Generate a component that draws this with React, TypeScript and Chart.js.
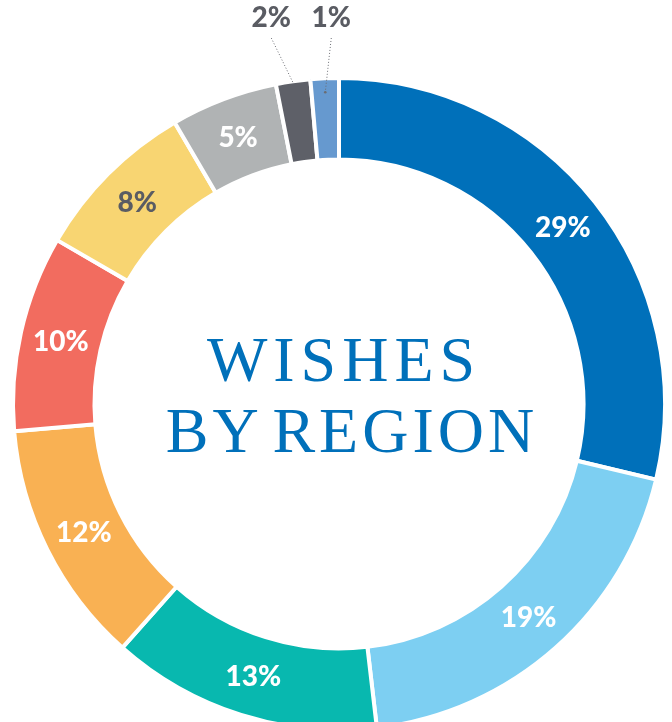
import React, { useEffect, useRef } from "react";
import { Chart, registerables } from "chart.js";

Chart.register(...registerables);

const regions = ["Region A", "Region B", "Region C", "Region D", "Region E", "Region F", "Region G", "Region H", "Region I"];
const shares = [28.7, 19.4, 13.4, 12.1, 9.7, 8.2, 5.3, 1.7, 1.4];
const percentLabels = ["29%", "19%", "13%", "12%", "10%", "8%", "5%", "2%", "1%"];
const sliceColors = ["#0070BA", "#7DCFF2", "#08B8AF", "#F9B153", "#F26C5F", "#F8D572", "#B0B3B4", "#5E6068", "#6699CF"];
const labelColors = ["#FFFFFF", "#FFFFFF", "#FFFFFF", "#FFFFFF", "#FFFFFF", "#5A5C63", "#FFFFFF", "#5A5C63", "#5A5C63"];
const calloutIndexes = [7, 8];

const labelPlugin = {
  id: "sliceLabels",
  afterDatasetsDraw(chart: any) {
    const ctx = chart.ctx;
    const meta = chart.getDatasetMeta(0);
    ctx.save();
    ctx.font = "900 28px Lato";
    ctx.textAlign = "center";
    ctx.textBaseline = "middle";
    meta.data.forEach((arc: any, i: number) => {
      const { x, y, startAngle, endAngle, outerRadius } = arc.getProps(["x", "y", "startAngle", "endAngle", "outerRadius"], true);
      if (calloutIndexes.includes(i)) {
        const mid = (startAngle + endAngle) / 2;
        const k = calloutIndexes.indexOf(i);
        const endR = k === 0 ? outerRadius - 2 : outerRadius - 14;
        const ex = x + Math.cos(mid) * endR;
        const ey = y + Math.sin(mid) * endR;
        const lx = k === 0 ? ex - 22 : ex + 6;
        const ly = y - outerRadius - 60;
        ctx.fillStyle = labelColors[i];
        ctx.fillText(percentLabels[i], lx, ly);
        ctx.strokeStyle = "#6B6D73";
        ctx.lineWidth = 1;
        ctx.setLineDash([1, 2]);
        ctx.beginPath();
        ctx.moveTo(lx, ly + 20);
        ctx.lineTo(ex, ey);
        ctx.stroke();
        ctx.setLineDash([]);
        if (k === 1) {
          ctx.fillStyle = "#6B6D73";
          ctx.beginPath();
          ctx.arc(ex, ey, 1.3, 0, Math.PI * 2);
          ctx.fill();
        }
      } else {
        const p = arc.tooltipPosition(true);
        ctx.fillStyle = labelColors[i];
        ctx.fillText(percentLabels[i], p.x, p.y + 1);
      }
    });
    ctx.restore();
  },
};

export default function App() {
  const canvasRef = useRef<HTMLCanvasElement>(null);

  useEffect(() => {
    if (!canvasRef.current) return;
    const chart = new Chart(canvasRef.current, {
      type: "doughnut",
      data: {
        labels: regions,
        datasets: [
          {
            data: shares,
            backgroundColor: sliceColors,
            borderColor: "#FFFFFF",
            borderWidth: 4,
          },
        ],
      },
      options: {
        animation: false,
        responsive: false,
        maintainAspectRatio: false,
        cutout: "75%",
        layout: { padding: { left: 11, right: 5, top: 76, bottom: 28 } },
        plugins: {
          legend: { display: false },
          tooltip: { enabled: false },
        },
      },
      plugins: [labelPlugin],
    });
    return () => chart.destroy();
  }, []);

  const lineStyle: React.CSSProperties = { whiteSpace: "nowrap" };

  return (
    <div style={{ position: "fixed", left: 0, top: 0, width: 672, height: 722, overflow: "hidden", background: "#fff" }}>
      <canvas ref={canvasRef} width={672} height={760} style={{ position: "absolute", left: 0, top: 0, width: 672, height: 760 }} />
      <div
        style={{
          position: "absolute",
          left: 0,
          top: 324,
          width: 672,
          textAlign: "center",
          fontFamily: "'Liberation Serif', serif",
          fontSize: 64,
          lineHeight: "71px",
          letterSpacing: 6,
          color: "#0070BA",
          pointerEvents: "none",
        }}
      >
        <div style={{ ...lineStyle, paddingLeft: 16 }}>WISHES</div>
        <div style={{ ...lineStyle, paddingLeft: 32, letterSpacing: 4, wordSpacing: -8 }}>BY REGION</div>
      </div>
    </div>
  );
}
